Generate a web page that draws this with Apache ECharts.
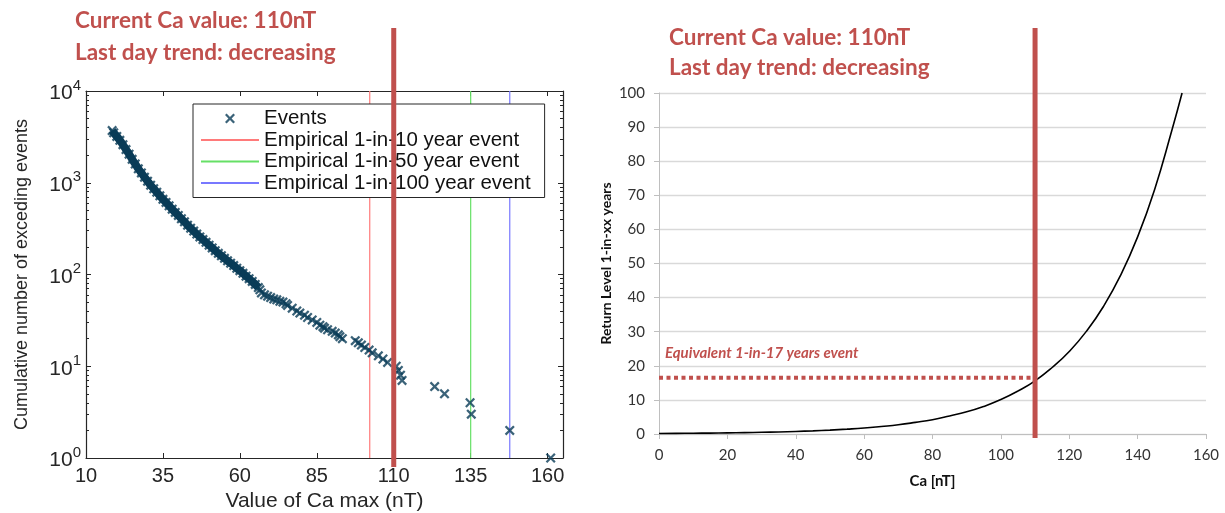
<!DOCTYPE html>
<html lang="en">
  <head>
    <meta charset="UTF-8">
    <title>Ca return level</title>
    <style>
      html, body { margin: 0; padding: 0; background: #fff; }
      #main { width: 1225px; height: 513px; }
    </style>
  </head>
  <body>
    <div id="main"></div>
    <script src="https://cdn.jsdelivr.net/npm/echarts@6/dist/echarts.min.js"></script>
    <script type="text/javascript">
      // 左图：累计超越事件数（对数坐标）
      var eventValues = [18.5, 19, 20, 21, 22, 23, 24, 25, 26, 27, 28, 29, 30, 31, 32, 33, 34, 35, 36, 37, 38, 39, 40,
        41, 42, 43, 44, 45, 46, 47, 48, 49, 50, 51, 52, 53, 54, 55, 56, 57, 58, 59, 60, 61, 62, 63, 64, 65, 66,
        66.5, 67, 68, 69, 70, 71, 72, 73, 74, 75, 75.5, 77, 78.5, 79.5, 81, 82, 83.5, 85, 86, 87, 87.5, 88.5, 90,
        91, 92, 92.5, 93.3, 97.5, 98.5, 99.5, 100.6, 102, 103, 105, 106.5, 108, 110.8, 111.5, 112.2, 112.7,
        123.3, 126.5, 134.8, 135.2, 147.7, 161];
      var eventCounts = [3700, 3500, 3200, 2900, 2600, 2300, 2050, 1800, 1600, 1420, 1280, 1150, 1040, 940, 860, 790, 720, 660, 610, 560, 515, 475, 440,
        405, 375, 345, 320, 297, 276, 257, 240, 224, 209, 195, 182, 170, 160, 150, 141, 133, 125, 117, 110, 103, 96, 90, 84, 78, 72,
        68, 63, 60, 58, 56, 54, 53, 51, 50, 48, 46, 43, 40, 38, 36, 34, 32, 30, 28, 27, 26, 25, 24,
        23, 22, 21, 20, 19, 18, 17, 16, 15, 14, 13, 12, 11, 10, 9, 8, 7,
        6, 5, 4, 3, 2, 1];
      var denseCount = 49; // 前 49 个点挤在一起成一条粗带
      var thresholdNames = ['Empirical 1-in-10 year event', 'Empirical 1-in-50 year event', 'Empirical 1-in-100 year event'];
      var thresholdValues = [102.2, 135, 147.7];
      var thresholdColors = ['#ff7a7a', '#66e066', '#7878ff'];
      var leftXTicks = [10, 35, 60, 85, 110, 135, 160];
      var logMinorTicks = [2, 3, 4, 5, 6, 7, 8, 9, 20, 30, 40, 50, 60, 70, 80, 90,
        200, 300, 400, 500, 600, 700, 800, 900, 2000, 3000, 4000, 5000, 6000, 7000, 8000, 9000];

      // 右图：重现期曲线
      var caValues = [0, 5, 10, 15, 20, 25, 30, 35, 40, 45, 50, 55, 60, 65, 70, 75, 80, 85, 90, 95, 100,
        105, 110, 115, 120, 125, 130, 135, 140, 145, 150, 153];
      var returnYears = [0.15, 0.18, 0.22, 0.27, 0.33, 0.4, 0.5, 0.6, 0.75, 0.93, 1.15, 1.42, 1.75, 2.2, 2.7, 3.4, 4.2, 5.3, 6.5, 8.1, 10.1,
        12.6, 15.6, 19.5, 24.2, 30.1, 37.4, 46.5, 57.8, 71.8, 89, 100];

      var currentCa = 110;
      var equivalentYears = 16.5;

      var red = '#c0504d';
      var navy = '#0a3c58';
      var crossPath = 'path://M0,1.6L1.6,0L5,3.4L8.4,0L10,1.6L6.6,5L10,8.4L8.4,10L5,6.6L1.6,10L0,8.4L3.4,5Z';
      var dark = '#262626';

      var chart = echarts.init(document.getElementById('main'));

      var eventData = eventValues.map(function(v, i) { return [v, eventCounts[i]]; });

      var series = [{
        name: 'Events',
        type: 'scatter',
        xAxisIndex: 0,
        yAxisIndex: 0,
        symbol: crossPath,
        symbolSize: 10,
        itemStyle: { color: navy },
        data: eventData,
        z: 3
      }, {
        name: 'band',
        type: 'line',
        xAxisIndex: 0,
        yAxisIndex: 0,
        symbol: 'none',
        smooth: 0.3,
        lineStyle: { color: navy, width: 8 },
        data: eventData.slice(0, denseCount),
        z: 3
      }];
      thresholdValues.forEach(function(v, i) {
        series.push({
          name: thresholdNames[i],
          type: 'line',
          xAxisIndex: 0,
          yAxisIndex: 0,
          symbol: 'none',
          lineStyle: { color: thresholdColors[i], width: 1.2 },
          itemStyle: { color: thresholdColors[i] },
          data: [[v, 1], [v, 10000]],
          z: 2
        });
      });
      series.push({
        name: 'return',
        type: 'line',
        xAxisIndex: 2,
        yAxisIndex: 2,
        symbol: 'none',
        smooth: 0.5,
        lineStyle: { color: '#000', width: 1.6 },
        data: caValues.map(function(v, i) { return [v, returnYears[i]]; })
      });
      series.push({
        name: 'equivalent',
        type: 'line',
        xAxisIndex: 2,
        yAxisIndex: 2,
        symbol: 'none',
        lineStyle: { color: red, width: 4, type: [4, 3.5], cap: 'butt' },
        data: [[0, equivalentYears], [currentCa, equivalentYears]],
        z: 1
      });

      var leftFont = 'Liberation Sans, Arial, sans-serif';
      var rightFont = 'Lato, Open Sans, sans-serif';

      // 左图四周的框：下/上 x 轴，左/右 y 轴，外加对数次刻度
      function boxY(position, minor) {
        return {
          type: 'log', gridIndex: 0, min: 1, max: 10000, logBase: 10, position: position,
          axisLine: { show: !minor, lineStyle: { color: dark, width: 1.2 } },
          axisTick: minor
            ? { inside: true, length: 3, lineStyle: { color: dark }, customValues: logMinorTicks }
            : { inside: true, length: 5, lineStyle: { color: dark } },
          axisLabel: { show: false },
          splitLine: { show: false }
        };
      }

      var option = {
        animation: false,
        backgroundColor: '#fff',
        grid: [
          { left: 86, right: 662, top: 91, bottom: 55, outerBoundsMode: 'none' },
          { left: 659, right: 19, top: 93, bottom: 79, outerBoundsMode: 'none' }
        ],
        legend: {
          data: [{ name: 'Events' }].concat(thresholdNames.map(function(n) {
            return { name: n, itemStyle: { opacity: 0 } };
          })),
          orient: 'vertical',
          left: 193,
          top: 104,
          padding: [4, 14, 4, 7],
          itemWidth: 58,
          itemHeight: 10,
          itemGap: 0.5,
          borderColor: dark,
          borderWidth: 1,
          borderRadius: 0,
          backgroundColor: '#fff',
          textStyle: { fontFamily: leftFont, fontSize: 20.5, color: '#111', lineHeight: 20 },
          z: 4
        },
        xAxis: [{
          type: 'value', gridIndex: 0, min: 10, max: 165,
          name: 'Value of Ca max (nT)', nameLocation: 'middle', nameGap: 29,
          nameTextStyle: { fontFamily: leftFont, fontSize: 21, color: dark },
          axisLine: { lineStyle: { color: dark, width: 1.2 } },
          axisTick: { inside: true, length: 5, lineStyle: { color: dark }, customValues: leftXTicks },
          axisLabel: { fontFamily: leftFont, fontSize: 20, color: dark, margin: 8, customValues: leftXTicks },
          splitLine: { show: false }
        }, {
          type: 'value', gridIndex: 0, min: 10, max: 165, position: 'top',
          axisLine: { lineStyle: { color: dark, width: 1.2 } },
          axisTick: { inside: true, length: 5, lineStyle: { color: dark }, customValues: leftXTicks },
          axisLabel: { show: false },
          splitLine: { show: false }
        }, {
          type: 'value', gridIndex: 1, min: 0, max: 160, interval: 20,
          name: 'Ca [nT]', nameLocation: 'middle', nameGap: 40,
          nameTextStyle: { fontFamily: rightFont, fontSize: 15, fontWeight: 'bold', color: '#111' },
          axisLine: { lineStyle: { color: '#bfbfbf' } },
          axisTick: { show: true, length: 5, lineStyle: { color: '#bfbfbf' } },
          axisLabel: { fontFamily: rightFont, fontSize: 15, color: '#333', margin: 14 },
          splitLine: { show: false }
        }],
        yAxis: [{
          type: 'log', gridIndex: 0, min: 1, max: 10000, logBase: 10,
          name: 'Cumulative number of exceding events', nameLocation: 'middle', nameGap: 55,
          nameTextStyle: { fontFamily: leftFont, fontSize: 18, color: dark },
          axisLine: { show: true, lineStyle: { color: dark, width: 1.2 } },
          axisTick: { inside: true, length: 5, lineStyle: { color: dark } },
          axisLabel: {
            margin: 5,
            formatter: function(v) { return '{b|10}{s|' + Math.round(Math.log10(v)) + '}'; },
            rich: {
              b: { fontFamily: leftFont, fontSize: 21, color: dark, verticalAlign: 'bottom' },
              s: { fontFamily: leftFont, fontSize: 15, color: dark, verticalAlign: 'top', padding: [0, 0, 11, 0] }
            }
          },
          splitLine: { show: false }
        },
          boxY('right', false),
          {
          type: 'value', gridIndex: 1, min: 0, max: 100, interval: 10,
          name: 'Return Level 1-in-xx years', nameLocation: 'middle', nameGap: 46,
          nameTextStyle: { fontFamily: rightFont, fontSize: 14, fontWeight: 'bold', color: '#111' },
          axisLine: { show: true, lineStyle: { color: '#bfbfbf' } },
          axisTick: { show: true, length: 5, lineStyle: { color: '#bfbfbf' } },
          axisLabel: { fontFamily: rightFont, fontSize: 15, color: '#333', margin: 14 },
          splitLine: { show: true, lineStyle: { color: '#d9d9d9', width: 1.3 } }
        },
          boxY('left', true),
          boxY('right', true)
        ],
        series: series
      };

      chart.setOption(option);

      // 用坐标轴换算当前值的位置，再画粗红线和文字
      var xLeft = chart.convertToPixel({ xAxisIndex: 0 }, currentCa);
      var xRight = chart.convertToPixel({ xAxisIndex: 2 }, currentCa);
      var titleStyle = { fill: red, font: 'bold 22.5px Lato, sans-serif' };

      chart.setOption({
        graphic: [
          { type: 'line', z: 100, shape: { x1: xLeft, y1: 28, x2: xLeft, y2: 467 }, style: { stroke: red, lineWidth: 5 } },
          { type: 'line', z: 100, shape: { x1: xRight, y1: 28, x2: xRight, y2: 438 }, style: { stroke: red, lineWidth: 5 } },
          { type: 'text', left: 75, top: 9, style: Object.assign({ text: 'Current Ca value: ' + currentCa + 'nT' }, titleStyle) },
          { type: 'text', left: 75, top: 41, style: Object.assign({ text: 'Last day trend: decreasing' }, titleStyle) },
          { type: 'text', left: 669, top: 26, style: Object.assign({ text: 'Current Ca value: ' + currentCa + 'nT' }, titleStyle) },
          { type: 'text', left: 669, top: 56, style: Object.assign({ text: 'Last day trend: decreasing' }, titleStyle) },
          { type: 'text', left: 665, top: 346, style: { text: 'Equivalent 1-in-' + Math.round(equivalentYears) + ' years event', fill: red, font: 'italic bold 15px Lato, sans-serif' } }
        ]
      });
    </script>
  </body>
</html>
